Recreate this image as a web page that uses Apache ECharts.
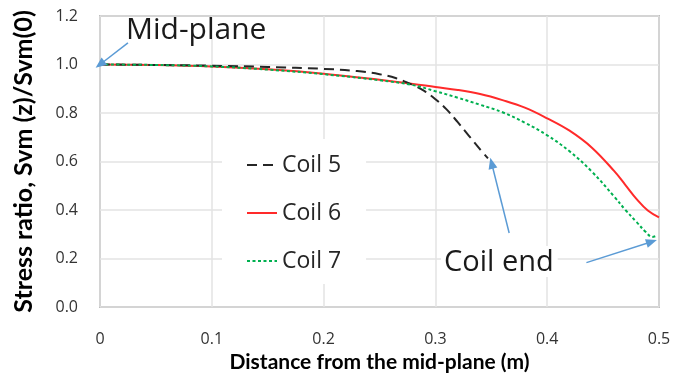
<!DOCTYPE html>
<html>
<head>
<meta charset="utf-8">
<style>
  html, body { margin: 0; padding: 0; background: #fff; }
  #chart { width: 676px; height: 374px; }
</style>
<script src="https://cdn.jsdelivr.net/npm/echarts@6/dist/echarts.min.js"></script>
</head>
<body>
<div id="chart"></div>
<script>
// Normalised von Mises stress along the coil axis, z measured from the mid-plane
const seriesNames = ['Coil 5', 'Coil 6', 'Coil 7'];

const coil5 = [
  [0, 1.0], [0.05, 0.998], [0.1, 0.995], [0.15, 0.99], [0.2, 0.982],
  [0.23, 0.973], [0.25, 0.96], [0.265, 0.943], [0.28, 0.915], [0.29, 0.891],
  [0.3, 0.857], [0.31, 0.815], [0.32, 0.762], [0.33, 0.706], [0.34, 0.65], [0.347, 0.613]
];

const coil6 = [
  [0, 1.0], [0.05, 0.998], [0.1, 0.992], [0.15, 0.98], [0.2, 0.962],
  [0.25, 0.937], [0.28, 0.92], [0.3, 0.907], [0.32, 0.895], [0.34, 0.878],
  [0.36, 0.853], [0.38, 0.822], [0.4, 0.778], [0.42, 0.727], [0.44, 0.657],
  [0.46, 0.56], [0.47, 0.503], [0.48, 0.445], [0.49, 0.398], [0.5, 0.37]
];

const coil7 = [
  [0, 1.0], [0.05, 0.998], [0.1, 0.992], [0.15, 0.979], [0.2, 0.96],
  [0.25, 0.935], [0.28, 0.915], [0.3, 0.89], [0.32, 0.863], [0.34, 0.834],
  [0.36, 0.803], [0.38, 0.76], [0.4, 0.708], [0.42, 0.642], [0.44, 0.558],
  [0.46, 0.455], [0.47, 0.4], [0.48, 0.35], [0.488, 0.31], [0.494, 0.289],
  [0.498, 0.294]
];

// Callout arrows: [tail, head] in data units
const midPlaneArrow = [[0.025, 1.089], [0.0, 1.0]];
const coilEndArrows = [
  [[0.366, 0.305], [0.3503, 0.593]],
  [[0.4351, 0.183], [0.4934, 0.269]]
];

const xTicks = { min: 0, max: 0.5, interval: 0.1 };
const yTicks = { min: 0, max: 1.2, interval: 0.2 };

const FONT = '"Open Sans", "Liberation Sans", sans-serif';
const TITLE_FONT = 'Lato, "Open Sans", sans-serif';
const ARROW_BLUE = '#5b9bd5';

function arrowLine(pair) {
  return [{ coord: pair[0] }, { coord: pair[1] }];
}

const chart = echarts.init(document.getElementById('chart'), null, { renderer: 'canvas' });

chart.setOption({
  animation: false,
  backgroundColor: '#ffffff',
  textStyle: { fontFamily: FONT },
  grid: {
    left: 100, right: 17, top: 16, bottom: 67,
    outerBoundsMode: 'none',
    containLabel: false,
    show: true, borderColor: '#8c8c8c', borderWidth: 1.5
  },
  legend: {
    orient: 'vertical',
    left: 222,
    top: 139,
    padding: [14, 25, 11, 24],
    backgroundColor: '#ffffff',
    itemWidth: 30,
    itemHeight: 14,
    itemGap: 24,
    itemStyle: { opacity: 0 },
    textStyle: { fontFamily: FONT, fontSize: 23, color: '#262626', lineHeight: 24 },
    data: seriesNames
  },
  xAxis: {
    type: 'value',
    min: xTicks.min, max: xTicks.max, interval: xTicks.interval,
    name: 'Distance from the mid-plane (m)',
    nameLocation: 'middle',
    nameGap: 43,
    nameTextStyle: { fontFamily: TITLE_FONT, fontSize: 21, fontWeight: 'bold', color: '#000' },
    axisLine: { show: false },
    axisTick: { show: false },
    axisLabel: { margin: 24, fontSize: 16, color: '#333', fontFamily: FONT },
    splitLine: { show: true, lineStyle: { color: '#e3e3e3', width: 1.5 } }
  },
  yAxis: {
    type: 'value',
    min: yTicks.min, max: yTicks.max, interval: yTicks.interval,
    name: 'Stress ratio, Svm (z)/Svm(0)',
    nameLocation: 'middle',
    nameGap: 64,
    nameTextStyle: { fontFamily: TITLE_FONT, fontSize: 25, fontWeight: 'bold', color: '#000' },
    axisLine: { show: false },
    axisTick: { show: false },
    axisLabel: {
      margin: 22, fontSize: 16, color: '#333', fontFamily: FONT,
      formatter: v => v.toFixed(1)
    },
    splitLine: { show: true, lineStyle: { color: '#e3e3e3', width: 1.5 } }
  },
  series: [
    {
      name: seriesNames[0],
      type: 'line',
      data: coil5,
      symbol: 'none',
      smooth: 0.4,
      lineStyle: { color: '#262626', width: 2, type: [10, 6] },
      itemStyle: { color: '#262626' },
      z: 3,
      markLine: {
        silent: true,
        symbol: ['none', 'triangle'],
        symbolSize: [9, 11],
        label: { show: false },
        lineStyle: { color: ARROW_BLUE, width: 1.5, type: 'solid' },
        data: [arrowLine(midPlaneArrow)].concat(coilEndArrows.map(arrowLine))
      }
    },
    {
      name: seriesNames[1],
      type: 'line',
      data: coil6,
      symbol: 'none',
      smooth: 0.4,
      lineStyle: { color: '#ff2a2a', width: 2, type: 'solid' },
      itemStyle: { color: '#ff2a2a' },
      z: 2
    },
    {
      name: seriesNames[2],
      type: 'line',
      data: coil7,
      symbol: 'none',
      smooth: 0.4,
      lineStyle: { color: '#00b050', width: 2, type: [3, 2.5] },
      itemStyle: { color: '#00b050' },
      z: 4
    }
  ],
  graphic: [
    {
      type: 'text', left: 126, top: 15, z: 10,
      style: { text: 'Mid-plane', fontFamily: FONT, fontSize: 30, fill: '#1a1a1a' }
    },
    {
      type: 'text', left: 441, top: 246, z: 10,
      style: {
        text: 'Coil end', fontFamily: FONT, fontSize: 29, fill: '#1a1a1a',
        backgroundColor: '#ffffff', padding: [2, 4, 0, 3]
      }
    }
  ]
});
</script>
</body>
</html>
